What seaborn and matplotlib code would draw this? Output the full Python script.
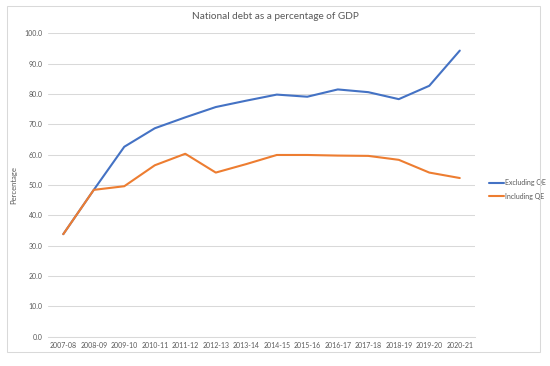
import pandas as pd
import matplotlib
matplotlib.use('Agg')
import matplotlib.pyplot as plt
import seaborn as sns
from matplotlib.patches import Rectangle

years = ['2007-08', '2008-09', '2009-10', '2010-11', '2011-12', '2012-13', '2013-14',
         '2014-15', '2015-16', '2016-17', '2017-18', '2018-19', '2019-20', '2020-21']
excluding_qe = [33.8, 48.4, 62.6, 68.7, 72.3, 75.7, 77.8, 79.8, 79.1, 81.5, 80.6, 78.3, 82.7, 94.3]
including_qe = [33.8, 48.4, 49.6, 56.5, 60.3, 54.1, 56.9, 59.9, 59.9, 59.7, 59.6, 58.3, 54.1, 52.3]
series_names = ['Excluding QE', 'Including QE']
colors = ['#4472C4', '#ED7D31']

df = pd.DataFrame({
    'Year': years * 2,
    'Percentage': excluding_qe + including_qe,
    'Series': [series_names[0]] * len(years) + [series_names[1]] * len(years),
})

sns.set_style('white')
plt.rcParams['font.family'] = ['Lato', 'DejaVu Sans']

fig = plt.figure(figsize=(5.5, 3.66), dpi=100)
ax = fig.add_axes([0.0873, 0.080, 0.7764, 0.829])

sns.lineplot(data=df, x='Year', y='Percentage', hue='Series', palette=colors,
             linewidth=1.5, ax=ax, sort=False)

ax.set_ylim(0, 100)
ax.set_xlim(-0.5, len(years) - 0.5)
ax.set_yticks(range(0, 101, 10))
ax.set_yticklabels([f'{v:.1f}' for v in range(0, 101, 10)])
ax.yaxis.grid(True, color='#d9d9d9', linewidth=0.75)
ax.set_axisbelow(True)
for s in ['top', 'right', 'left']:
    ax.spines[s].set_visible(False)
ax.spines['bottom'].set_color('#d9d9d9')
ax.spines['bottom'].set_linewidth(0.75)
ax.tick_params(axis='both', length=0, labelsize=5, colors='#595959', pad=4)
ax.set_xlabel('')
ax.set_ylabel('Percentage', fontsize=5.5, color='#595959', labelpad=5)

fig.suptitle('National debt as a percentage of GDP', x=0.5, y=0.968, fontsize=7.2, color='#595959')

leg = ax.legend(loc='center left', bbox_to_anchor=(0.878, 0.482), bbox_transform=fig.transFigure,
                frameon=False, fontsize=5, handlelength=2.2, handletextpad=0.1, labelspacing=0.9)
for t in leg.get_texts():
    t.set_color('#595959')

fig.patches.append(Rectangle((0.0127, 0.038), 0.9691, 0.9456, transform=fig.transFigure,
                             fill=False, edgecolor='#d9d9d9', linewidth=0.75))

fig.savefig('out.png', dpi=100, facecolor='white')
